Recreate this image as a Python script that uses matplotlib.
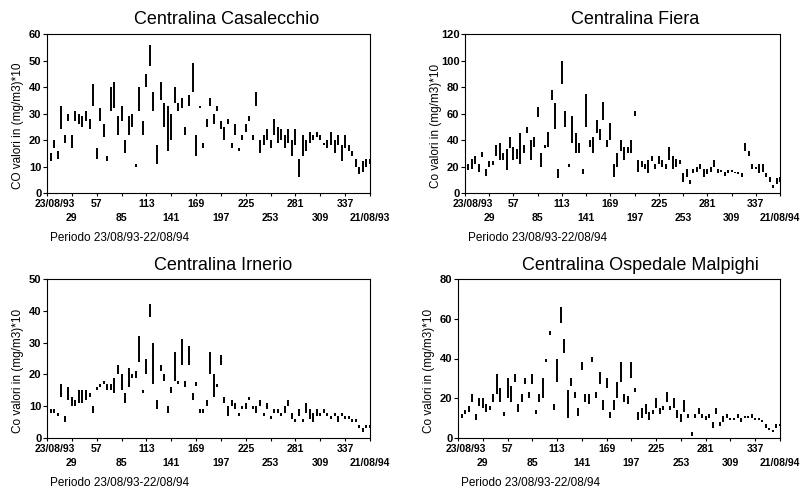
import numpy as np
import matplotlib
matplotlib.use('Agg')
import matplotlib.pyplot as plt
from matplotlib.transforms import ScaledTranslation

plt.rcParams['font.family'] = ['Liberation Sans', 'DejaVu Sans']

# days of the period (every 4th day)
days = np.arange(1, 366, 4)

# tick labels sit on two staggered rows
top_days = [1, 57, 113, 169, 225, 281, 337]
bottom_days = [29, 85, 141, 197, 253, 309, 365]

# Centralina Casalecchio
casa_hi = [18, 15, 20, 16, 33, 22, 30,
           22, 31, 30, 29, 31, 28, 41,
           17, 32, 26, 14, 40, 42, 29,
           33, 20, 29, 30, 11, 40, 27,
           45, 56, 38, 18, 42, 34, 33,
           30, 40, 34, 36, 25, 37, 49,
           22, 33, 19, 28, 36, 30, 33,
           27, 25, 28, 19, 26, 17, 22,
           26, 29, 22, 38, 20, 22, 24,
           20, 28, 25, 24, 22, 24, 20,
           24, 13, 22, 20, 23, 22, 23,
           22, 19, 20, 23, 20, 22, 18,
           22, 18, 16, 13, 10, 12, 13,
           13]
casa_lo = [15, 12, 17, 13, 24, 19, 27,
           17, 27, 26, 25, 27, 24, 33,
           13, 27, 21, 12, 31, 32, 22,
           27, 15, 22, 25, 10, 31, 22,
           40, 48, 31, 11, 35, 25, 16,
           20, 34, 31, 32, 22, 33, 38,
           14, 32, 17, 25, 33, 26, 31,
           24, 20, 26, 17, 22, 16, 20,
           23, 27, 20, 33, 15, 18, 20,
           17, 22, 19, 20, 17, 19, 14,
           18, 6, 14, 16, 19, 20, 21,
           20, 18, 17, 18, 15, 18, 12,
           17, 16, 14, 10, 7, 8, 10,
           11]

# Centralina Fiera
fiera_hi = [20, 22, 26, 28, 22, 31, 18,
            24, 24, 36, 38, 30, 33, 42,
            35, 33, 45, 36, 50, 40, 42,
            65, 30, 36, 46, 78, 68, 18,
            100, 62, 22, 58, 45, 38, 18,
            75, 40, 42, 55, 48, 69, 40,
            53, 22, 30, 40, 35, 35, 40,
            62, 25, 24, 22, 25, 28, 22,
            28, 25, 22, 35, 28, 26, 25,
            15, 18, 10, 18, 20, 22, 18,
            18, 20, 25, 18, 17, 16, 17,
            17, 16, 16, 15, 38, 32, 22,
            20, 22, 22, 15, 12, 6, 11,
            12]
fiera_lo = [14, 17, 18, 22, 16, 27, 13,
            20, 21, 28, 25, 25, 17, 34,
            25, 26, 22, 30, 45, 25, 35,
            57, 20, 34, 35, 70, 48, 11,
            82, 50, 20, 38, 30, 30, 14,
            50, 35, 30, 45, 40, 55, 35,
            40, 12, 20, 32, 25, 30, 30,
            58, 16, 20, 18, 15, 24, 18,
            22, 20, 18, 25, 18, 20, 22,
            8, 12, 7, 15, 16, 18, 12,
            14, 16, 20, 15, 16, 13, 15,
            16, 15, 14, 12, 32, 28, 18,
            18, 15, 16, 12, 8, 4, 7,
            8]

# Centralina Irnerio
irn_hi = [10, 9, 9, 8, 17, 7, 16,
          13, 12, 15, 15, 15, 14, 10,
          16, 17, 18, 17, 17, 19, 23,
          20, 14, 22, 20, 21, 32, 15,
          25, 42, 30, 12, 23, 20, 10,
          16, 27, 18, 31, 18, 29, 14,
          17.5, 9, 9, 12, 27, 20, 17,
          26, 13, 10, 12, 11, 8, 10,
          11, 13, 10, 10, 12, 8, 11,
          7, 9, 9, 8, 10, 12, 8,
          6, 9, 6, 11, 9, 8, 9,
          8, 9, 8, 7, 8, 7, 8,
          7, 7, 6, 6, 4, 3, 4,
          4]
irn_lo = [3, 8, 8, 7, 13, 5, 12,
          10, 10, 11, 11, 12, 13, 8,
          15, 16, 17, 15, 15, 14, 20,
          15, 11, 16, 19, 19, 24, 14,
          20, 38, 17, 9, 21, 18, 8,
          14, 18, 17, 23, 16, 23, 12,
          16.5, 8, 8, 10, 20, 13, 16,
          23, 11, 7, 10, 9, 7, 9,
          9, 12, 9, 8, 10, 7, 9,
          6, 8, 8, 7, 8, 10, 6,
          5, 7, 5, 8, 6, 5, 7,
          7, 8, 7, 6, 7, 5, 7,
          6, 6, 5, 5, 3, 2, 3,
          3]

# Centralina Ospedale Malpighi
malp_hi = [9, 12, 14, 16, 22, 12, 20,
           20, 17, 16, 22, 32, 25, 13,
           30, 26, 32, 17, 22, 30, 23,
           32, 14, 22, 30, 40, 54, 17,
           40, 66, 50, 24, 30, 23, 15,
           38, 22, 22, 41, 23, 33, 19,
           30, 13, 19, 28, 38, 22, 21,
           38, 25, 13, 15, 17, 13, 14,
           20, 15, 16, 23, 16, 20, 14,
           12, 19, 12, 3, 12, 15, 12,
           11, 12, 8, 15, 8, 11, 12,
           10, 10, 12, 10, 11, 11, 12,
           10, 10, 9, 7, 5, 4, 7,
           7]
malp_lo = [8, 10, 12, 13, 18, 9, 16,
           15, 13, 14, 18, 22, 18, 11,
           20, 18, 28, 13, 18, 27, 20,
           27, 12, 18, 20, 38, 52, 14,
           28, 58, 43, 10, 26, 20, 11,
           34, 18, 17, 38, 20, 27, 14,
           25, 10, 14, 20, 28, 18, 17,
           30, 23, 9, 10, 12, 9, 12,
           15, 12, 14, 18, 14, 15, 10,
           8, 13, 10, 1, 10, 12, 10,
           9, 10, 5, 12, 6, 8, 10,
           9, 9, 10, 8, 10, 10, 10,
           9, 9, 8, 5, 4, 3, 5,
           6]

panels = [
    dict(title='Centralina Casalecchio', hi=casa_hi, lo=casa_lo, ymax=60, ystep=10,
         ylabel='CO valori in (mg/m3)*10', last='21/08/93',
         rect=[47/806, 1 - 193/490, 323/806, 159/490], tx=227/806, ty=1 - 20/490),
    dict(title='Centralina Fiera', hi=fiera_hi, lo=fiera_lo, ymax=120, ystep=20,
         ylabel='Co valori in (mg/m3)*10', last='21/08/94',
         rect=[465/806, 1 - 193/490, 315/806, 159/490], tx=635/806, ty=1 - 20/490),
    dict(title='Centralina Irnerio', hi=irn_hi, lo=irn_lo, ymax=50, ystep=10,
         ylabel='Co valori in (mg/m3)*10', last='21/08/94',
         rect=[47/806, 1 - 438/490, 323/806, 159/490], tx=223/806, ty=1 - 265/490),
    dict(title='Centralina Ospedale Malpighi', hi=malp_hi, lo=malp_lo, ymax=80, ystep=20,
         ylabel='Co valori in (mg/m3)*10', last='21/08/94',
         rect=[458/806, 1 - 438/490, 322/806, 159/490], tx=640/806, ty=1 - 265/490),
]

fig = plt.figure(figsize=(8.06, 4.90), dpi=100)

for p in panels:
    ax = fig.add_axes(p['rect'])
    ax.vlines(days, p['lo'], p['hi'], colors='black', linewidth=1.4)
    ax.set_xlim(1, 365)
    ax.set_ylim(0, p['ymax'])
    ax.set_yticks(np.arange(0, p['ymax'] + 1, p['ystep']))

    top_labels = ['23/08/93'] + [str(d) for d in top_days[1:]]
    bottom_labels = [str(d) for d in bottom_days[:-1]] + [p['last']]
    ax.set_xticks(top_days)
    ax.set_xticklabels(top_labels, fontsize=7.5, fontweight='bold')
    ax.set_xticks(bottom_days, minor=True)
    ax.set_xticklabels(bottom_labels, minor=True, fontsize=7.5, fontweight='bold')
    ax.tick_params(axis='x', which='major', length=2, width=0.8, pad=2.5)
    ax.tick_params(axis='x', which='minor', length=2, width=0.8, pad=12.5)
    ax.tick_params(axis='y', labelsize=8, length=3, width=0.8, pad=1)
    for lab in ax.get_yticklabels():
        lab.set_fontweight('bold')
    # first date label is pushed a little to the right, as on the original
    first = ax.get_xticklabels()[0]
    first.set_transform(first.get_transform() + ScaledTranslation(8/100, 0, fig.dpi_scale_trans))
    for sp in ax.spines.values():
        sp.set_linewidth(0.8)

    x0, y0, w, h = p['rect']
    fig.text(p['tx'], p['ty'], p['title'], fontsize=13, ha='center', va='center')
    fig.text(x0 - 29/806, y0 + h / 2 - 12/490, p['ylabel'], rotation=90, fontsize=8.5,
             ha='center', va='center')
    fig.text(x0 + 3/806, y0 - 45/490, 'Periodo 23/08/93-22/08/94', fontsize=8.5,
             ha='left', va='center')

fig.savefig('out.png', dpi=100)
